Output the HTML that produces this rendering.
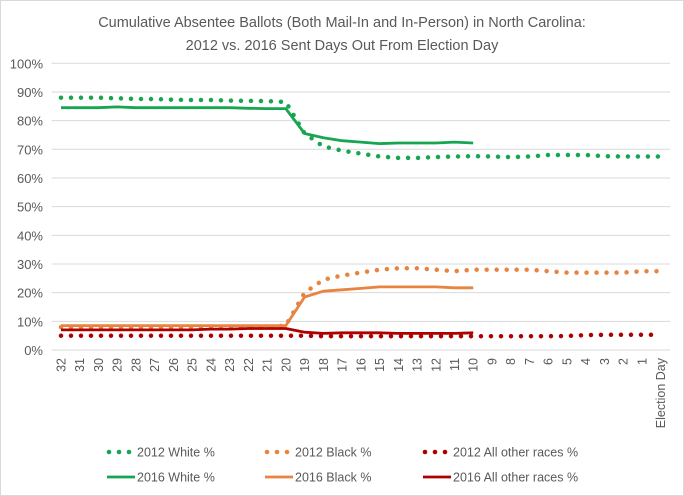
<!DOCTYPE html>
<html><head><meta charset="utf-8"><style>
body{margin:0;background:#fff}
svg{display:block;font-family:"Liberation Sans",Arial,sans-serif}
</style></head><body>
<svg id="chart" width="684" height="496">
<rect x="0.5" y="0.5" width="683" height="495" fill="#fff" stroke="#d9d9d9"/>
<text x="342" y="27" text-anchor="middle" font-size="14.5" fill="#595959">Cumulative Absentee Ballots (Both Mail-In and In-Person) in North Carolina:</text>
<text x="342" y="50" text-anchor="middle" font-size="14.5" fill="#595959">2012 vs. 2016 Sent Days Out From Election Day</text>
<g id="grid"></g><g id="xlabels"></g><g id="series"></g><g id="legend"></g>
</svg>
<script>
const categories=["32","31","30","29","28","27","26","25","24","23","22","21","20","19","18","17","16","15","14","13","12","11","10","9","8","7","6","5","4","3","2","1","Election Day"];
const yTicks=[0,10,20,30,40,50,60,70,80,90,100];
const white2012=[88,88,88,87.8,87.6,87.5,87.3,87.2,87.2,87,86.9,86.8,86.5,75.5,71,69.5,68.5,67.5,67,67,67.3,67.5,67.6,67.5,67.3,67.5,68,68,68,67.6,67.5,67.5,67.5];
const black2012=[8,8,8,8,8,8,8,8,8,8,8,8,8.5,20,24.5,26,27,28,28.5,28.5,28,27.5,28,28,28,28,27.5,27,27,27,27,27.5,27.5];
const other2012=[5,5,5,5,5,5,5,5,5,5,5,5,5,5,4.8,4.8,4.8,4.8,4.8,4.8,4.8,4.8,4.8,4.8,4.8,4.8,4.8,4.9,5.2,5.3,5.3,5.3,5.3];
const white2016=[84.5,84.5,84.5,84.8,84.5,84.5,84.5,84.5,84.5,84.5,84.3,84.2,84.2,75.5,74,73,72.5,72,72.2,72.2,72.2,72.5,72.2];
const black2016=[8.5,8.5,8.5,8.5,8.5,8.5,8.5,8.5,8.5,8.5,8.5,8.5,8.5,18.5,20.5,21,21.5,22,22,22,22,21.7,21.7];
const other2016=[7,7,7,7,7,7,7,7,7.3,7.3,7.5,7.5,7.5,6.2,5.8,6,6,6,5.8,5.8,5.8,5.8,6];
const NS="http://www.w3.org/2000/svg";
const X0=51.6,X1=670,Y0=350,Y1=63.3;
const bw=(X1-X0)/categories.length;
const xs=i=>X0+bw*(i+0.5);
const ys=v=>Y0-(v/100)*(Y0-Y1);
function mk(t,a,p){const e=document.createElementNS(NS,t);for(const k in a)e.setAttribute(k,a[k]);p.appendChild(e);return e;}
const grid=document.getElementById('grid');
yTicks.forEach(t=>{
 const l=mk('line',{x1:X0,x2:X1,y1:ys(t),y2:ys(t),stroke:'#d9d9d9','stroke-width':1},grid);
 
 
 const tx=mk('text',{x:43,y:ys(t)+5,'text-anchor':'end','font-size':13,fill:'#595959'},grid);
 tx.textContent=t+'%';
 
 
});
const xl=document.getElementById('xlabels');
categories.forEach((c,i)=>{
 const x=xs(i)+4.5,y=358;
 const tx=mk('text',{x:x,y:y,'text-anchor':'end','font-size':12.5,fill:'#595959',transform:`rotate(-90 ${x} ${y})`},xl);
 tx.textContent=c;
 
 
});
const ser=document.getElementById('series');
function draw(vals,color,dotted,name){
 const d=vals.map((v,i)=>(i?'L':'M')+xs(i).toFixed(1)+' '+ys(v).toFixed(1)).join(' ');
 const a={d:d,fill:'none',stroke:color,'stroke-linejoin':'round'};
 if(dotted){a['stroke-width']=4.5;a['stroke-dasharray']='0 10';a['stroke-linecap']='round';}
 else a['stroke-width']=2.8;
 const p=mk('path',a,ser);
 
 
}
const O='#e8843f',R='#ad0000',G='#17a550';
draw(white2012,G,true,'series-2012-white');
draw(black2012,O,true,'series-2012-black');
draw(other2012,R,true,'series-2012-other');
draw(white2016,G,false,'series-2016-white');
draw(black2016,O,false,'series-2016-black');
draw(other2016,R,false,'series-2016-other');
const lg=document.getElementById('legend');
const items=[[107,452,G,true,'2012 White %'],[265,452,O,true,'2012 Black %'],[423,452,R,true,'2012 All other races %'],
[107,477,G,false,'2016 White %'],[265,477,O,false,'2016 Black %'],[423,477,R,false,'2016 All other races %']];
items.forEach(it=>{
 const g=mk('g',{},lg);
 
 
 if(it[3]){
  [it[0]+2,it[0]+12,it[0]+22].forEach(cx=>mk('circle',{cx:cx,cy:it[1],r:2.3,fill:it[2]},g));
 } else {
  mk('line',{x1:it[0],x2:it[0]+28,y1:it[1],y2:it[1],stroke:it[2],'stroke-width':2.8},g);
 }
 const t=mk('text',{x:it[0]+30,y:it[1]+4.5,'font-size':12.5,fill:'#595959'},g);
 t.textContent=it[4];
});
</script>
</body></html>
